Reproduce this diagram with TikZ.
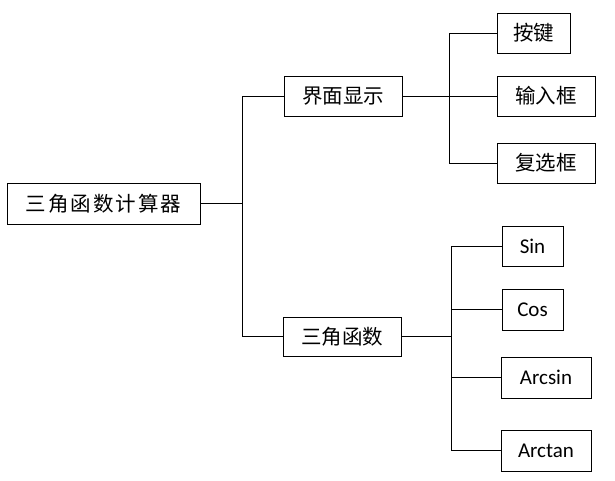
\documentclass[tikz,border=0pt]{standalone}
\usepackage{fontspec}
\setmainfont{Carlito}
\newfontfamily\cjk{Noto Sans CJK SC}
\newfontfamily\cjkwide[LetterSpace=10]{Noto Sans CJK SC}
\usetikzlibrary{positioning}
\tikzstyle{box} = [rectangle,
draw=black,
line width=0.8pt,
inner sep=0pt,
text centered,
minimum height=40pt,
font=\cjk\fontsize{20.5pt}{20.5pt}\selectfont]
\tikzstyle{leaf} = [box,
font=\fontsize{21pt}{21pt}\selectfont]
\tikzstyle{line} = [line width=0.8pt]

\begin{document}
\begin{tikzpicture}[x=1pt,y=1pt]
\useasboundingbox (0,0) rectangle (615,-481);

\node (root) [box, minimum width=193pt, minimum height=41pt, font=\cjkwide\fontsize{20.5pt}{20.5pt}\selectfont] at (103.5,-203.5) {三角函数计算器};

\node (ui) [box, minimum width=118pt] at (343,-96) {界面显示};
\node (fn) [box, minimum width=118pt, minimum height=39pt] at (342,-336.5) {三角函数};

\node (key) [box, minimum width=73pt] at (533.5,-33) {按键};
\node (inp) [box, minimum width=98pt] at (546,-96) {输入框};
\node (chk) [box, minimum width=98pt] at (546,-163) {复选框};

\node (sin) [leaf, minimum width=61pt] at (532.5,-246) {Sin};
\node (cos) [leaf, minimum width=61pt, minimum height=41pt] at (532.5,-309.5) {Cos};
\node (asin) [leaf, minimum width=90pt, minimum height=41pt] at (546,-377.5) {Arcsin};
\node (atan) [leaf, minimum width=90pt, minimum height=41pt] at (546,-450.5) {Arctan};

\coordinate (b1) at (242,-203.5);
\coordinate (b2) at (449,-96);
\coordinate (b3) at (451,-336.5);

\draw [line] (root.east) -- (b1) |- (ui.west);
\draw [line] (b1) |- (fn.west);
\draw [line] (ui.east) -- (inp.west);
\draw [line] (b2) |- (key.west);
\draw [line] (b2) |- (chk.west);
\draw [line] (fn.east) -- (b3);
\draw [line] (b3) |- (sin.west);
\draw [line] (b3) |- (cos.west);
\draw [line] (b3) |- (asin.west);
\draw [line] (b3) |- (atan.west);

\end{tikzpicture}
\end{document}
